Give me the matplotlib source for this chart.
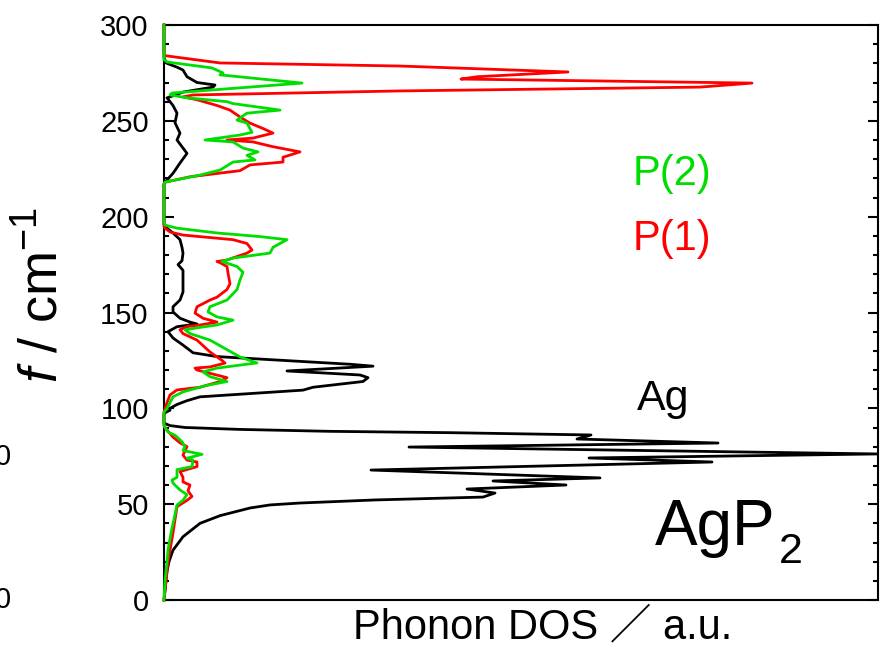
import numpy as np
import matplotlib
matplotlib.use("Agg")
import matplotlib.pyplot as plt
from matplotlib.ticker import MultipleLocator

plt.rcParams['font.family'] = ['Liberation Sans', 'Noto Sans CJK JP', 'DejaVu Sans']
plt.rcParams['mathtext.fontset'] = 'custom'
plt.rcParams['mathtext.rm'] = 'Liberation Sans'
plt.rcParams['mathtext.it'] = 'Liberation Sans:italic'

# Ag partial DOS (arb. units) vs frequency (cm^-1)
ag_freq = [0, 5, 10, 15, 20, 26, 33, 40, 44, 48, 49.6, 50.6, 52.2, 53.7, 55.8, 57.9, 60, 62.1, 63.7,
           67.8, 72, 74.1, 76.2, 79.8, 81.9, 84, 86.1, 87.3, 88, 89, 90, 91, 92.3, 97, 98, 99, 100,
           102, 104, 106, 109.5, 111, 114, 116, 117.4, 119.5, 122, 123, 127, 129, 133, 136.7, 140,
           142.6, 144, 145, 147, 150.3, 153, 156.5, 160.7, 167, 172, 175, 177, 181, 184, 188, 191.5,
           194, 195, 196, 217, 218, 222.6, 228, 233, 236.5, 240, 243.6, 249, 254, 258, 262, 262.5,
           265, 267.6, 268.7, 270, 273, 276.5, 278, 280, 281.7, 283, 300]
ag_dos = [0, 0.01, 0.02, 0.03, 0.05, 0.09, 0.19, 0.36, 0.56, 0.86, 1.06, 1.36, 2.11, 3.19, 3.31, 3.03,
          4.02, 3.29, 4.36, 2.07, 5.48, 4.25, 7.13, 2.45, 5.54, 4.13, 4.27, 2.86, 1.66, 0.76, 0.21,
          0.06, 0, 0, 0.02, 0.06, 0.06, 0.13, 0.23, 0.36, 1.39, 1.49, 1.99, 2.04, 1.96, 1.23, 2.09,
          1.86, 0.53, 0.29, 0.19, 0.09, 0.04, 0.13, 0.33, 0.26, 0.16, 0.09, 0.09, 0.16, 0.19, 0.19,
          0.19, 0.14, 0.18, 0.19, 0.18, 0.16, 0.09, 0.03, 0.01, 0, 0, 0.01, 0.09, 0.16, 0.23, 0.18,
          0.13, 0.16, 0.11, 0.13, 0.09, 0.03, 0.06, 0.19, 0.49, 0.51, 0.33, 0.23, 0.19, 0.13, 0.03,
          0.01, 0, 0]

# P(1) partial DOS
p1_freq = [0, 10, 20, 26, 35, 48.7, 52, 54, 57, 60, 61.6, 64, 67, 69.6, 72, 73, 75.6, 80, 82, 85,
           88.7, 91, 98, 103, 107, 109.6, 111, 114, 116, 120, 121, 121.6, 123.6, 125, 129.4, 135.6,
           139, 141, 142.6, 143.5, 145, 147, 149.7, 153, 156.5, 158, 162, 165, 170.6, 174, 176,
           176.6, 177.4, 181, 182.6, 186, 188, 190.4, 192, 194, 195, 217, 218, 220.8, 224, 227,
           228.5, 231, 233.8, 234.8, 236.5, 239, 240, 241, 243.6, 246, 248.8, 252, 255.6, 258, 261,
           262.5, 263.5, 265.6, 267.6, 269.7, 271.8, 273, 275.5, 278.6, 280.2, 284, 285, 300]
p1_dos = [0, 0.02, 0.04, 0.06, 0.09, 0.13, 0.23, 0.28, 0.24, 0.26, 0.19, 0.19, 0.16, 0.33, 0.33,
          0.23, 0.19, 0.23, 0.16, 0.09, 0.03, 0, 0, 0.03, 0.06, 0.13, 0.36, 0.56, 0.63, 0.33, 0.31,
          0.46, 0.61, 0.58, 0.46, 0.33, 0.19, 0.16, 0.23, 0.36, 0.53, 0.39, 0.31, 0.33, 0.46, 0.53,
          0.63, 0.66, 0.64, 0.63, 0.56, 0.53, 0.63, 0.83, 0.88, 0.83, 0.69, 0.19, 0.06, 0.01, 0, 0,
          0.01, 0.26, 0.76, 0.86, 1.19, 1.19, 1.36, 1.26, 1.09, 0.89, 0.63, 0.89, 1.09, 0.99, 0.86,
          0.76, 0.66, 0.53, 0.33, 0.19, 0.29, 2.36, 5.36, 5.88, 2.97, 3.13, 4.04, 2.36, 0.56, 0.01,
          0, 0]

# P(2) partial DOS
p2_freq = [0, 10, 20, 26, 35, 49.6, 52, 55, 57.4, 61, 62.6, 64, 68, 69.6, 73, 74, 76, 78, 80, 82.6,
           86, 87.6, 90, 91, 98, 100, 106, 108.6, 112, 114, 116.5, 119, 121, 123.7, 126.8, 135.6,
           139, 141, 142, 143.5, 146, 147.7, 150.3, 153, 156.5, 162, 167, 171, 174, 176.6, 178.4,
           181, 184, 188, 189.6, 191.5, 194, 195.6, 197, 217, 218, 221.7, 224.3, 228.5, 229.6, 232,
           233.8, 235.8, 239, 240, 242.6, 244, 248.8, 250.4, 254, 255.6, 259, 260, 262, 263.5,
           264.5, 269.7, 274, 275, 277.6, 280.7, 282, 300]
p2_dos = [0, 0.01, 0.03, 0.04, 0.07, 0.13, 0.19, 0.23, 0.16, 0.09, 0.08, 0.13, 0.13, 0.28, 0.29,
          0.23, 0.38, 0.19, 0.21, 0.18, 0.11, 0.04, 0.01, 0, 0, 0.03, 0.09, 0.19, 0.43, 0.63, 0.46,
          0.39, 0.53, 0.93, 0.76, 0.46, 0.26, 0.21, 0.33, 0.53, 0.69, 0.53, 0.44, 0.46, 0.63, 0.73,
          0.76, 0.79, 0.73, 0.58, 0.69, 1.06, 1.09, 1.23, 0.96, 0.53, 0.13, 0.01, 0, 0, 0.01, 0.36,
          0.56, 0.69, 0.91, 0.83, 0.94, 0.79, 0.69, 0.41, 0.76, 0.88, 0.83, 0.73, 0.83, 1.16, 0.69,
          0.63, 0.23, 0.06, 0.08, 1.38, 0.56, 0.59, 0.48, 0.03, 0, 0]

fig = plt.figure(figsize=(8.85, 6.55), dpi=100)
ax = fig.add_axes([164/885, 1-600/655, 714/885, 575/655])

lw = 2.0
ax.plot(ag_dos, ag_freq, color='black', lw=lw, zorder=3, clip_on=False)
ax.plot(p1_dos, p1_freq, color='#ff0000', lw=lw, zorder=3, clip_on=False)
ax.plot(p2_dos, p2_freq, color='#00dd00', lw=lw, zorder=3, clip_on=False)

ax.set_xlim(0, 7.14)
ax.set_ylim(0, 300)
ax.yaxis.set_major_locator(MultipleLocator(50))
ax.yaxis.set_minor_locator(MultipleLocator(10))
ax.set_xticks([])
ax.tick_params(axis='y', which='both', direction='in', left=True, right=True,
               labelsize=21, pad=11, width=1.5)
ax.tick_params(axis='y', which='major', length=7.5)
ax.tick_params(axis='y', which='minor', length=3.8)
for s in ax.spines.values():
    s.set_linewidth(1.5)


def put(xp, yp, s, **kw):
    # place text by pixel position in the 885x655 figure
    kw.setdefault('va', 'baseline')
    kw.setdefault('ha', 'left')
    fig.text(xp/885, 1-yp/655, s, **kw)


put(43, 295, r'$f$ / cm$^{-1}$', fontsize=39, rotation=90, ha='center', va='center')
put(543, 638, 'Phonon DOS \uff0f a.u.', fontsize=30, ha='center')

put(633, 185, 'P(2)', color='#00dd00', fontsize=30)
put(633, 250, 'P(1)', color='#ff0000', fontsize=30)
put(637, 410, 'Ag', color='black', fontsize=31)
put(655, 545, 'AgP', color='black', fontsize=46)
put(779, 563, '2', color='black', fontsize=31)

# cut-off tick labels of the neighbouring panel
put(11, 457, '0', fontsize=21, ha='right', va='center')
put(11, 600, '0', fontsize=21, ha='right', va='center')

fig.savefig('out.png', dpi=100)
